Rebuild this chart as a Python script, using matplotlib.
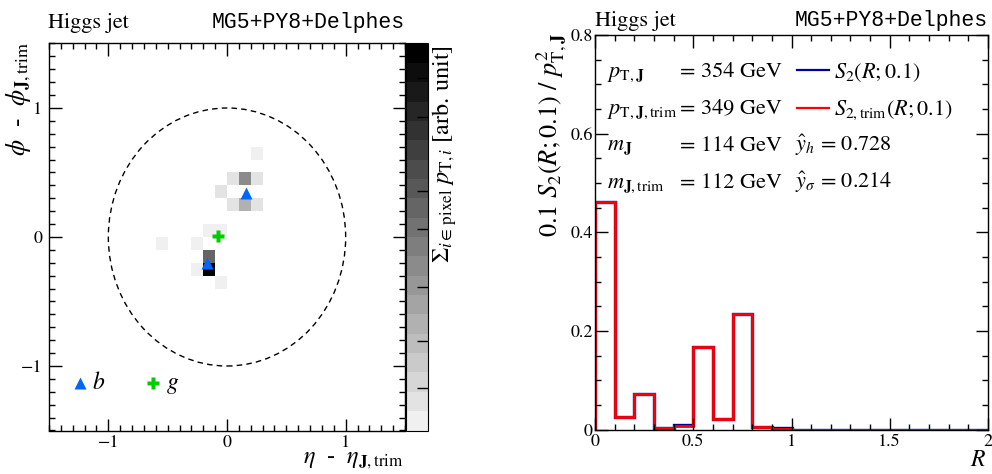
import numpy as np
import matplotlib
matplotlib.use('Agg')
import matplotlib.pyplot as plt
from matplotlib.colors import ListedColormap
from matplotlib.patches import Circle
from matplotlib.lines import Line2D
from matplotlib.ticker import MultipleLocator, FormatStrFormatter

plt.rcParams['font.family'] = ['STIXGeneral', 'DejaVu Sans']
plt.rcParams['mathtext.fontset'] = 'stix'
plt.rcParams['axes.linewidth'] = 1.0

# 喷注图像: 像素中心 (eta, phi) 与像素内 pT 之和 (任意单位)
pix_eta = [0.25, 0.05, 0.15, 0.25, -0.05, 0.05, 0.15, 0.25,
           -0.15, -0.05, -0.55, -0.25, -0.15, -0.25, -0.15, -0.05]
pix_phi = [0.65, 0.45, 0.45, 0.45, 0.35, 0.25, 0.25, 0.25,
           0.05, 0.05, -0.05, -0.05, -0.15, -0.25, -0.25, -0.35]
pix_pt = [0.03, 0.05, 0.44, 0.05, 0.05, 0.05, 0.27, 0.09,
          0.04, 0.04, 0.04, 0.04, 0.56, 0.04, 1.0, 0.04]

# b 夸克与胶子的位置
b_eta = [0.16, -0.17]
b_phi = [0.34, -0.20]
g_eta = [-0.08]
g_phi = [0.01]

# S2(R;0.1) 直方图
r_edges = np.linspace(0, 2, 21)
s2 = [0.462, 0.025, 0.071, 0.004, 0.010, 0.167, 0.022, 0.234, 0.006, 0.003,
      0, 0, 0, 0, 0, 0, 0, 0, 0, 0]
s2_trim = [0.462, 0.025, 0.071, 0.004, 0.007, 0.167, 0.022, 0.234, 0.006, 0.001,
           0, 0, 0, 0, 0, 0, 0, 0, 0, 0]

# 喷注信息
pt_vals = [354, 349]
m_vals = [114, 112]
yhat_vals = [0.728, 0.214]

W, H = 992, 474
fig = plt.figure(figsize=(W / 100, H / 100), dpi=100)


def frac(x0, y0, x1, y1):
    return [x0 / W, 1 - y1 / H, (x1 - x0) / W, (y1 - y0) / H]


ax1 = fig.add_axes(frac(49, 43.5, 405, 430.5))
cax = fig.add_axes(frac(406, 43.5, 428, 430.5))
ax2 = fig.add_axes(frac(595, 35, 988, 429.5))

# 左图: 像素图
edges = np.round(np.linspace(-1.5, 1.5, 31), 2)
img, _, _ = np.histogram2d(pix_eta, pix_phi, bins=[edges, edges], weights=pix_pt)
img = np.ma.masked_equal(img.T, 0)
grays = ListedColormap([str(g) for g in np.linspace(0.94, 0.0, 20)])
mesh = ax1.pcolormesh(edges, edges, img, cmap=grays, vmin=0, vmax=1)
ax1.add_patch(Circle((0, 0), 1, fill=False, ls=(0, (4, 3)), lw=1.0, color='black'))
ax1.plot(b_eta, b_phi, ls='none', marker='^', ms=9, color='#0066ff', mec='none')
ax1.plot(g_eta, g_phi, ls='none', marker='P', ms=9, color='#00cc00', mec='none')
ax1.plot([-1.24], [-1.13], ls='none', marker='^', ms=9, color='#0066ff', mec='none')
ax1.plot([-0.62], [-1.13], ls='none', marker='P', ms=9, color='#00cc00', mec='none')
ax1.text(-1.14, -1.13, '$b$', fontsize=17, va='center')
ax1.text(-0.51, -1.15, '$g$', fontsize=17, va='center')
ax1.set_xlim(-1.5, 1.5)
ax1.set_ylim(-1.5, 1.5)
ax1.xaxis.set_major_locator(MultipleLocator(1))
ax1.yaxis.set_major_locator(MultipleLocator(1))
ax1.xaxis.set_minor_locator(MultipleLocator(0.1))
ax1.yaxis.set_minor_locator(MultipleLocator(0.1))

cb = fig.colorbar(mesh, cax=cax)
cb.outline.set_linewidth(0.8)
cb.set_ticks([0.11, 0.23, 0.37, 0.52, 0.62, 0.81, 0.91])
cax.tick_params(axis='y', direction='in', length=8, width=1, labelright=False, right=True)

# 右图: S2
ax2.stairs(s2, r_edges, color='#000099', lw=2.4)
ax2.stairs(s2_trim, r_edges, color='#ff0000', lw=2.0)
ax2.set_xlim(0, 2)
ax2.set_ylim(0, 0.8)
ax2.xaxis.set_major_locator(MultipleLocator(0.5))
ax2.xaxis.set_minor_locator(MultipleLocator(0.1))
ax2.yaxis.set_major_locator(MultipleLocator(0.2))
ax2.yaxis.set_minor_locator(MultipleLocator(0.05))
ax2.xaxis.set_major_formatter(FormatStrFormatter('%g'))
ax2.yaxis.set_major_formatter(FormatStrFormatter('%g'))

for ax in (ax1, ax2):
    ax.tick_params(which='both', direction='in', top=True, right=True, labelsize=13, width=1)
    ax.tick_params(which='major', length=9)
    ax.tick_params(which='minor', length=4.5)
    ax.tick_params(axis='x', which='major', pad=3)
ax1.tick_params(axis='y', which='major', pad=5)
ax2.tick_params(axis='y', which='major', pad=1.5)

# 右图图例与文字
rows = [0.893, 0.800, 0.706, 0.613]
col1 = [r'$p_{\mathrm{T},\mathbf{J}}$', r'$p_{\mathrm{T},\mathbf{J},\mathrm{trim}}$',
        r'$m_{\mathbf{J}}$', r'$m_{\mathbf{J},\mathrm{trim}}$']
col2 = ['= %d GeV' % v for v in pt_vals + m_vals]
for y, a, b in zip(rows, col1, col2):
    ax2.text(0.031, y, a, transform=ax2.transAxes, fontsize=16, va='baseline')
    ax2.text(0.216, y, b, transform=ax2.transAxes, fontsize=16, va='baseline')
ax2.text(0.509, rows[2], r'$\hat{y}_{h}$ = %.3f' % yhat_vals[0],
         transform=ax2.transAxes, fontsize=16, va='baseline')
ax2.text(0.509, rows[3], r'$\hat{y}_{\sigma}$ = %.3f' % yhat_vals[1],
         transform=ax2.transAxes, fontsize=16, va='baseline')

leg1 = ax2.legend([Line2D([], [], color='#000099', lw=1.6)], [r'$S_2(R;0.1)$'],
                  loc='center left', bbox_to_anchor=(0.515, 0.905), frameon=False,
                  fontsize=16, handlelength=1.4, handletextpad=0.25,
                  borderpad=0, borderaxespad=0)
ax2.add_artist(leg1)
ax2.legend([Line2D([], [], color='#ff0000', lw=1.6)], [r'$S_{2,\mathrm{trim}}(R;0.1)$'],
           loc='center left', bbox_to_anchor=(0.515, 0.808), frameon=False,
           fontsize=16, handlelength=1.4, handletextpad=0.25,
           borderpad=0, borderaxespad=0)

# 标题与坐标轴标签
fig.text(48 / W, 1 - 28 / H, 'Higgs jet', fontsize=16, va='baseline')
fig.text(405 / W, 1 - 28 / H, 'MG5+PY8+Delphes', fontsize=15.5, va='baseline',
         ha='right', family='Liberation Mono')
fig.text(595 / W, 1 - 26 / H, 'Higgs jet', fontsize=16, va='baseline')
fig.text(988 / W, 1 - 26 / H, 'MG5+PY8+Delphes', fontsize=15.5, va='baseline',
         ha='right', family='Liberation Mono')

fig.text(19 / W, 1 - 41 / H, r'$\phi$  -  $\phi_{\mathbf{J},\mathrm{trim}}$',
         fontsize=18.5, rotation=90, ha='center', va='top')
fig.text(404 / W, 1 - 450 / H, r'$\eta$  -  $\eta_{\mathbf{J},\mathrm{trim}}$',
         fontsize=17.5, ha='right', va='top')
fig.text(445 / W, 1 - 45 / H, r'$\Sigma_{i\in\,\mathrm{pixel}}\ p_{\mathrm{T},i}$ [arb. unit]',
         fontsize=17.5, rotation=90, ha='center', va='top')
fig.text(552 / W, 1 - 33 / H, r'0.1 $S_2(R;0.1)$ / $p^2_{\mathrm{T},\mathbf{J}}$',
         fontsize=19, rotation=90, ha='center', va='top')
fig.text(986 / W, 1 - 450 / H, '$R$', fontsize=17, ha='right', va='top')

fig.savefig('out.png', dpi=100)
